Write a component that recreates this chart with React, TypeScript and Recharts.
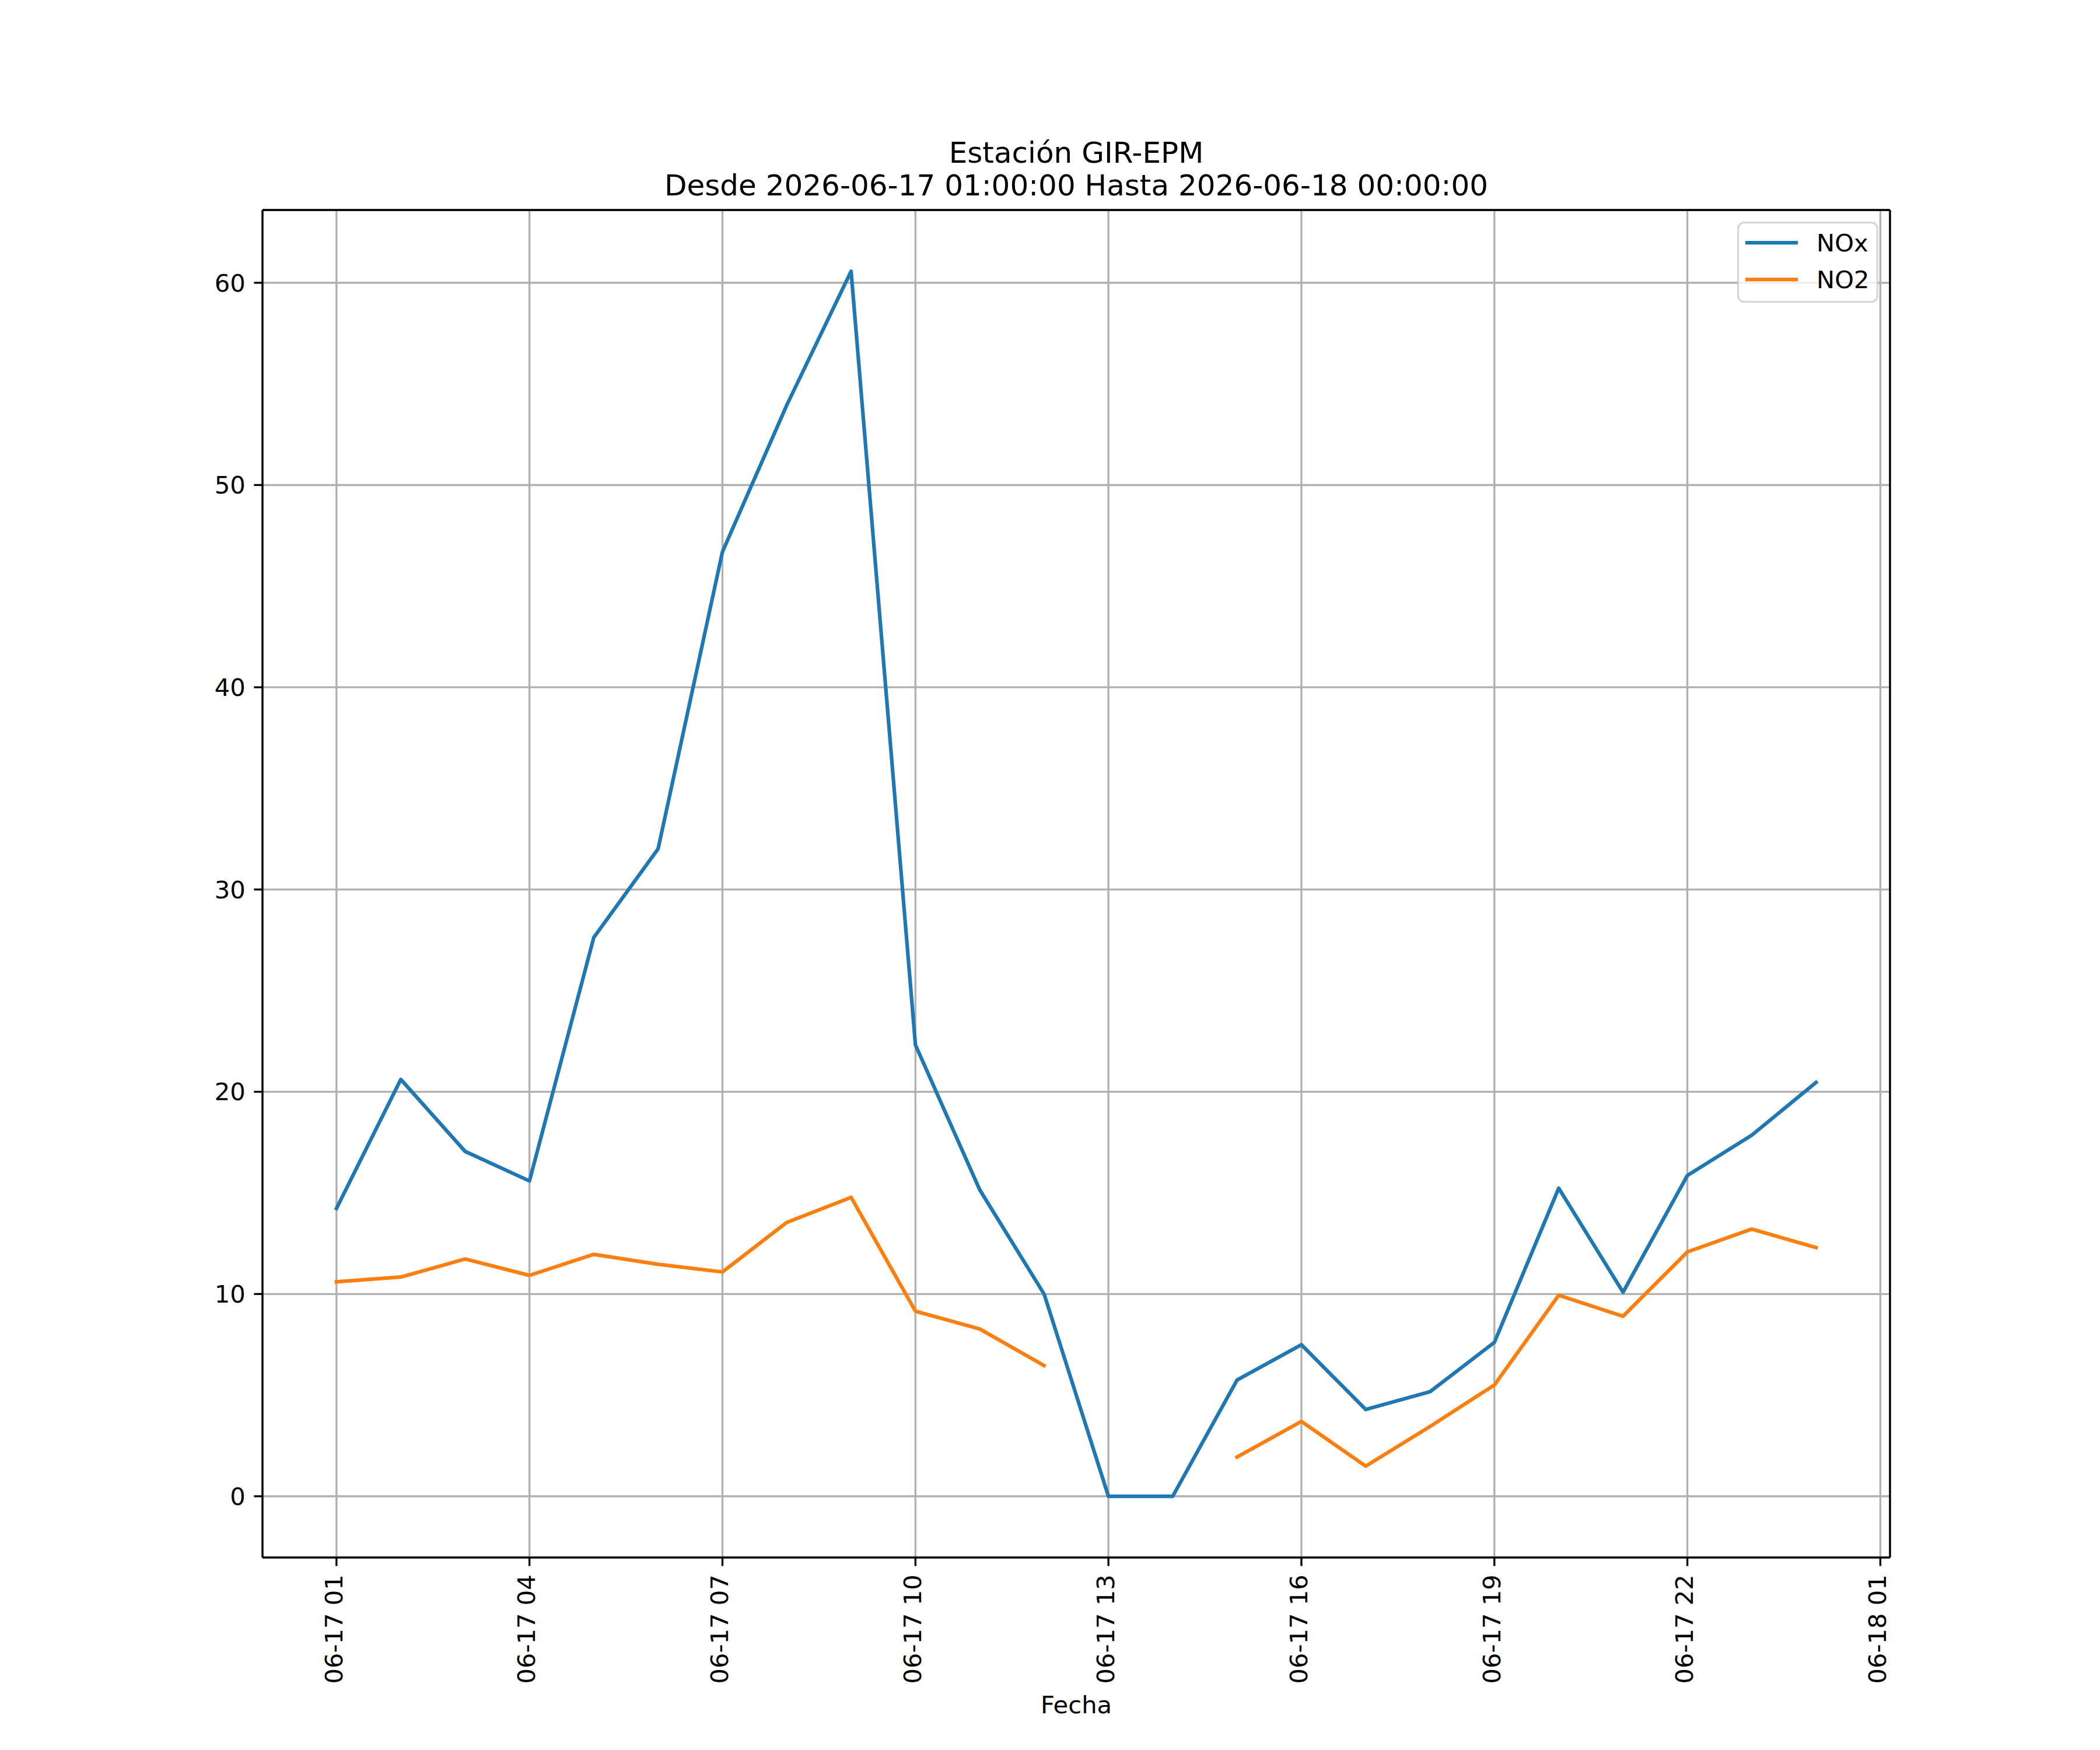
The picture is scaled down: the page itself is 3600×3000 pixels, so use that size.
import React from "react";
import { LineChart, Line, XAxis, YAxis, CartesianGrid, Legend } from "recharts";

// hourly readings, 2026-06-17 01:00 .. 2026-06-18 00:00
const TIMES = [
  "2026-06-17 01:00", "2026-06-17 02:00", "2026-06-17 03:00", "2026-06-17 04:00",
  "2026-06-17 05:00", "2026-06-17 06:00", "2026-06-17 07:00", "2026-06-17 08:00",
  "2026-06-17 09:00", "2026-06-17 10:00", "2026-06-17 11:00", "2026-06-17 12:00",
  "2026-06-17 13:00", "2026-06-17 14:00", "2026-06-17 15:00", "2026-06-17 16:00",
  "2026-06-17 17:00", "2026-06-17 18:00", "2026-06-17 19:00", "2026-06-17 20:00",
  "2026-06-17 21:00", "2026-06-17 22:00", "2026-06-17 23:00", "2026-06-18 00:00",
];

const NOX = [
  14.23, 20.61, 17.05, 15.59, 27.63, 32.01, 46.7, 53.95, 60.57, 22.32, 15.15, 10.0,
  0, 0, 5.75, 7.49, 4.29, 5.17, 7.61, 15.23, 10.09, 15.86, 17.85, 20.46,
];

const NO2 = [
  10.6, 10.84, 11.73, 10.92, 11.96, 11.47, 11.09, 13.54, 14.78, 9.15, 8.27, 6.46,
  null, null, 1.94, 3.7, 1.49, 3.45, 5.5, 9.94, 8.9, 12.08, 13.21, 12.3,
];

const SERIES = [
  { key: "NOx", color: "#1f77b4" },
  { key: "NO2", color: "#ff7f0e" },
];

// tick positions are hours after 2026-06-17 01:00
const X_TICKS = [0, 3, 6, 9, 12, 15, 18, 21, 24];
const X_TICK_LABELS = [
  "06-17 01", "06-17 04", "06-17 07", "06-17 10", "06-17 13",
  "06-17 16", "06-17 19", "06-17 22", "06-18 01",
];
const Y_TICKS = [0, 10, 20, 30, 40, 50, 60];

const TITLE = "Estación GIR-EPM";
const SUBTITLE = "Desde 2026-06-17 01:00:00 Hasta 2026-06-18 00:00:00";

const FONT = "'DejaVu Sans', sans-serif";
const FS = 41.67; // 10pt at 300 dpi
const GRID = "#b0b0b0";
const LW = 3.33;

const data = TIMES.map((t, i) => ({ x: i, time: t, NOx: NOX[i], NO2: NO2[i] }));

// matplotlib-style autoscale: 5% margin each side
function padded(values: number[]): [number, number] {
  const lo = Math.min(...values);
  const hi = Math.max(...values);
  const m = (hi - lo) * 0.05;
  return [lo - m, hi + m];
}
const xDomain = padded(data.map((d) => d.x));
const yDomain = padded(
  [...NOX, ...NO2].filter((v): v is number => v !== null)
);

function RotatedTick(props: any) {
  const { x, y, payload } = props;
  const label = X_TICK_LABELS[X_TICKS.indexOf(payload.value)];
  return (
    <text
      transform={`translate(${x + FS * 0.235}, ${y}) rotate(-90)`}
      textAnchor="end"
      fontSize={FS}
      fontFamily={FONT}
      fill="#000"
    >
      {label}
    </text>
  );
}

function LegendBox() {
  return (
    <svg width={242} height={139} style={{ display: "block" }}>
      <rect
        x={1.67}
        y={1.67}
        width={238.7}
        height={135.7}
        rx={10}
        fill="#fff"
        fillOpacity={0.8}
        stroke="#cccccc"
        strokeOpacity={0.8}
        strokeWidth={LW}
      />
      {SERIES.map((s, i) => {
        const cy = 36 + i * 63;
        return (
          <g key={s.key}>
            <line x1={14} x2={104} y1={cy} y2={cy} stroke={s.color} strokeWidth={6.25} />
            <text x={136} y={cy} dy="0.36em" fontSize={FS} fontFamily={FONT} fill="#000">
              {s.key}
            </text>
          </g>
        );
      })}
    </svg>
  );
}

export default function App() {
  const tickStyle = { fontSize: FS, fontFamily: FONT, fill: "#000" };
  const spine = { stroke: "#000", strokeWidth: LW };
  return (
    <div
      style={{
        position: "absolute",
        left: 0,
        top: 0,
        width: 3600,
        height: 3000,
        background: "#fff",
      }}
    >
      <LineChart
        width={3600}
        height={3000}
        data={data}
        margin={{ top: 359, right: 359, bottom: 300, left: 390 }}
      >
        <CartesianGrid stroke={GRID} strokeWidth={LW} />
        <XAxis
          type="number"
          dataKey="x"
          domain={xDomain}
          ticks={X_TICKS}
          interval={0}
          allowDataOverflow
          height={30}
          stroke="#000"
          tickSize={14.6}
          tickMargin={14.6}
          axisLine={spine}
          tickLine={spine}
          tick={<RotatedTick />}
          label={{
            content: (p: any) => {
              const vb = p.viewBox || {};
              return (
                <text
                  x={vb.x + vb.width / 2}
                  y={2937}
                  textAnchor="middle"
                  fontSize={FS}
                  fontFamily={FONT}
                  fill="#000"
                >
                  Fecha
                </text>
              );
            },
          }}
        />
        <XAxis
          xAxisId="top"
          orientation="top"
          type="number"
          dataKey="x"
          domain={xDomain}
          allowDataOverflow
          height={1}
          stroke="#000"
          tick={false}
          tickLine={false}
          axisLine={spine}
        />
        <YAxis
          type="number"
          domain={yDomain}
          ticks={Y_TICKS}
          interval={0}
          allowDataOverflow
          width={60}
          stroke="#000"
          tickSize={14.6}
          tickMargin={14.6}
          axisLine={spine}
          tickLine={spine}
          tick={tickStyle}
        />
        <YAxis
          yAxisId="right"
          orientation="right"
          type="number"
          domain={yDomain}
          allowDataOverflow
          width={1}
          stroke="#000"
          tick={false}
          tickLine={false}
          axisLine={spine}
        />
        {SERIES.map((s) => (
          <Line
            key={s.key}
            type="linear"
            dataKey={s.key}
            name={s.key}
            stroke={s.color}
            strokeWidth={6.25}
            strokeLinejoin="round"
            strokeLinecap="square"
            dot={false}
            activeDot={false}
            connectNulls={false}
            isAnimationActive={false}
          />
        ))}
        <Legend
          layout="horizontal"
          verticalAlign="middle"
          align="center"
          content={<LegendBox />}
          wrapperStyle={{ position: "absolute", left: 2978, top: 380, width: 242, height: 139 }}
        />
      </LineChart>
      <svg
        width={3600}
        height={400}
        style={{ position: "absolute", left: 0, top: 0, pointerEvents: "none" }}
      >
        <text x={1845} y={279} textAnchor="middle" fontSize={50} fontFamily={FONT} fill="#000">
          {TITLE}
        </text>
        <text x={1845} y={335} textAnchor="middle" fontSize={50} fontFamily={FONT} fill="#000">
          {SUBTITLE}
        </text>
      </svg>
    </div>
  );
}
